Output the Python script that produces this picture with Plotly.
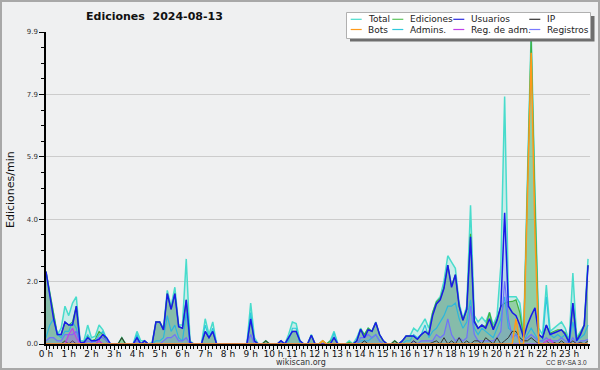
import plotly.graph_objects as go

# 10-minute buckets, 24 h (144 points), values in edits/min
total = [
    2.3, 1.6, 0.9, 0.3, 0.5, 1.2,
    0.9, 1.3, 1.5, 0.1, 0.1, 0.6,
    0.2, 0.25, 0.6, 0.45, 0.15, 0,
    0, 0, 0.2, 0, 0, 0,
    0.4, 0.1, 0.1, 0, 0.05, 0.7,
    0.7, 0.5, 1.7, 1.2, 1.8, 0.6,
    0.6, 2.7, 0.1, 0, 0, 0,
    0.8, 0.3, 0.7, 0, 0, 0,
    0, 0, 0, 0, 0, 0,
    1.3, 0.2, 0, 0, 0.1, 0,
    0, 0, 0.1, 0, 0.3, 0.7,
    0.65, 0.1, 0, 0, 0.3, 0,
    0, 0.1, 0, 0.1, 0.4, 0,
    0, 0, 0.1, 0, 0.2, 0.5,
    0.3, 0.5, 0.4, 0.7, 0.3, 0.1,
    0, 0, 0.1, 0, 0.1, 0.25,
    0.25, 0.5, 0.4, 0.6, 0.8, 0.5,
    1.0, 1.35, 1.5, 2.0, 2.8, 2.6,
    2.4, 1.3, 0.8, 1.2, 4.4, 0.9,
    0.7, 0.85, 0.7, 1.0, 0.6, 0.9,
    2.5, 7.85, 1.5, 1.5, 1.5, 1.3,
    0.3, 5.2, 9.9, 4.8, 0.5, 0.3,
    1.87, 0.4, 0.5, 0.6, 0.7, 0.5,
    0.1, 2.25, 0.2, 0.4, 0.6, 2.7,
]
ediciones = [
    2.3, 1.6, 0.9, 0.3, 0.3, 0.7,
    0.6, 0.7, 1.2, 0.05, 0.05, 0.25,
    0.1, 0.15, 0.4, 0.3, 0.1, 0,
    0, 0, 0.2, 0, 0, 0,
    0.2, 0, 0.1, 0, 0, 0.7,
    0.7, 0.45, 1.6, 1.1, 1.6, 0.55,
    0.5, 1.4, 0.05, 0, 0, 0,
    0.4, 0.2, 0.4, 0, 0, 0,
    0, 0, 0, 0, 0, 0,
    0.8, 0.1, 0, 0, 0.1, 0,
    0, 0, 0.1, 0, 0.2, 0.4,
    0.4, 0.1, 0, 0, 0.28, 0,
    0, 0.1, 0, 0.1, 0.2, 0,
    0, 0, 0.05, 0, 0.1, 0.47,
    0.3, 0.5, 0.4, 0.68, 0.3, 0.1,
    0, 0, 0.1, 0, 0.1, 0.25,
    0.25, 0.25, 0.15, 0.3, 0.4, 0.35,
    1.0, 1.34, 1.45, 1.8, 2.5, 1.85,
    2.2, 1.2, 0.75, 1.1, 3.5, 0.75,
    0.5, 0.6, 0.55, 1.0, 0.5, 0.8,
    1.2, 1.3, 1.34, 1.35, 1.4, 1.0,
    0.2, 5.0, 9.7, 4.5, 0.3, 0.2,
    0.6, 0.35, 0.4, 0.45, 0.45, 0.35,
    0.05, 1.3, 0.15, 0.35, 0.6, 2.5,
]
usuarios = [
    2.3, 1.5, 0.8, 0.3, 0.3, 0.7,
    0.6, 0.6, 1.2, 0.05, 0.05, 0.2,
    0.1, 0.1, 0.15, 0.3, 0.2, 0,
    0, 0, 0, 0, 0, 0,
    0.2, 0, 0.1, 0, 0, 0.7,
    0.7, 0.45, 1.6, 1.1, 1.6, 0.55,
    0.5, 1.4, 0.05, 0, 0, 0,
    0.4, 0.2, 0.4, 0, 0, 0,
    0, 0, 0, 0, 0, 0,
    0.8, 0.1, 0, 0, 0, 0,
    0, 0, 0.1, 0, 0.2, 0.4,
    0.4, 0.1, 0, 0, 0.28, 0,
    0, 0, 0, 0, 0.2, 0,
    0, 0, 0, 0, 0.1, 0.47,
    0.2, 0.45, 0.4, 0.68, 0.3, 0.1,
    0, 0, 0, 0, 0.1, 0.25,
    0.25, 0.25, 0.15, 0.3, 0.4, 0.3,
    0.9, 1.27, 1.4, 1.77, 2.5, 1.8,
    2.2, 1.2, 0.75, 1.1, 3.4, 0.7,
    0.5, 0.6, 0.5, 0.8, 0.45, 0.75,
    1.2, 4.16, 1.2, 1.0, 0.9, 0.6,
    0.2, 0.6, 0.9, 1.15, 0.3, 0.2,
    0.6, 0.3, 0.35, 0.4, 0.45, 0.3,
    0.05, 1.3, 0.1, 0.3, 0.6, 2.5,
]
ip = [
    0, 0, 0, 0, 0, 0.1,
    0, 0.1, 0, 0, 0, 0,
    0, 0, 0.1, 0, 0, 0,
    0, 0, 0.2, 0, 0, 0,
    0, 0, 0, 0, 0, 0,
    0, 0, 0, 0, 0, 0,
    0, 0, 0, 0, 0, 0,
    0, 0, 0, 0, 0, 0,
    0, 0, 0, 0, 0, 0,
    0, 0, 0, 0, 0.1, 0,
    0, 0, 0, 0, 0, 0,
    0, 0, 0, 0, 0, 0,
    0, 0, 0, 0, 0, 0,
    0, 0, 0, 0, 0, 0,
    0.1, 0, 0, 0, 0, 0,
    0, 0, 0.1, 0, 0, 0,
    0, 0.1, 0, 0, 0, 0,
    0.05, 0.1, 0, 0.2, 0, 0.1,
    0, 0.2, 0, 0.1, 0, 0.1,
    0.1, 0, 0.2, 0.1, 0, 0.2,
    0, 0.1, 0.2, 0.4, 0.4, 0.2,
    0.1, 0.1, 0.2, 0.1, 0, 0,
    0.1, 0, 0.05, 0, 0.1, 0,
    0, 0.1, 0, 0.05, 0, 0.1,
]
bots = [0] * 144
bots[73] = 0.1
bots[124] = 0.8
bots[127] = 4.5
bots[128] = 9.24
bots[129] = 3.5
admins = [
    0.2, 0.6, 0.8, 0.3, 0.2, 0.4,
    0.4, 0.7, 0.5, 0, 0.05, 0.3,
    0.1, 0.1, 0.3, 0.4, 0.15, 0,
    0, 0, 0, 0, 0, 0,
    0.3, 0, 0, 0, 0, 0.1,
    0.1, 0.2, 0.9, 0.4, 0.6, 0.2,
    0.1, 1.0, 0, 0, 0, 0,
    0.6, 0.2, 0.5, 0, 0, 0,
    0, 0, 0, 0, 0, 0,
    1.0, 0.1, 0, 0, 0, 0,
    0, 0, 0, 0, 0.1, 0.5,
    0.5, 0, 0, 0, 0, 0,
    0, 0, 0, 0, 0.35, 0,
    0, 0, 0, 0, 0, 0.1,
    0.1, 0.1, 0.2, 0.3, 0.1, 0,
    0, 0, 0, 0, 0, 0.1,
    0.1, 0.3, 0.2, 0.3, 0.6, 0.2,
    0.4, 0.5, 0.7, 0.9, 1.2, 1.2,
    1.3, 0.8, 0.5, 0.7, 1.4, 0.5,
    0.3, 0.5, 0.4, 0.3, 0.2, 0.5,
    0.8, 1.5, 0.5, 0.4, 0.3, 0.2,
    0.1, 0.3, 0.5, 0.3, 0.1, 0.1,
    1.5, 0.3, 0.2, 0.3, 0.2, 0.3,
    0.05, 0.7, 0.1, 0.2, 0.3, 0.6,
]
reg_adm = [0] * 144
reg_adm[6] = 0.3
reg_adm[7] = 0.5
reg_adm[8] = 0.2
reg_adm[14] = 0.1
reg_adm[132] = 0.1
reg_adm[133] = 0.15
registros = [
    0.1, 0.2, 0.2, 0.1, 0.1, 0.3,
    0.3, 0.3, 0.4, 0, 0, 0.1,
    0.05, 0.1, 0.2, 0.2, 0.1, 0,
    0, 0, 0, 0, 0, 0,
    0.1, 0, 0, 0, 0, 0,
    0, 0.1, 0.2, 0.2, 0.3, 0.1,
    0.1, 0.2, 0, 0, 0, 0,
    0, 0, 0, 0, 0, 0,
    0, 0, 0, 0, 0, 0,
    0.3, 0, 0, 0, 0, 0,
    0, 0, 0, 0, 0, 0,
    0, 0, 0, 0, 0, 0,
    0, 0, 0, 0, 0, 0,
    0, 0, 0, 0, 0, 0.2,
    0.2, 0.3, 0.2, 0.3, 0.1, 0,
    0, 0, 0, 0, 0, 0,
    0, 0.1, 0, 0.1, 0.1, 0.1,
    0.1, 0.3, 0.2, 0.3, 0.8, 0.3,
    0.1, 0.2, 0.1, 0.2, 1.2, 0.3,
    0.1, 0.1, 0.1, 0.1, 0.1, 0.2,
    0.4, 2.0, 0.8, 0.2, 0.3, 0.1,
    0.1, 0.2, 0.3, 0.2, 0.1, 0.1,
    0.2, 0.1, 0.1, 0.1, 0.2, 0.1,
    0, 0.2, 0, 0.1, 0.1, 0.15,
]

hours = [i / 6 for i in range(len(total))]

y_ticks = [0, 1.98, 3.96, 5.94, 7.92, 9.9]
y_ticktext = ["0.0", "2.0", "4.0", "5.9", "7.9", "9.9"]
x_ticks = list(range(24))
x_ticktext = [f"{h} h" for h in x_ticks]

legend_items = [
    ("Total", "#48dccc"), ("Ediciones", "#5cc45c"), ("Usuarios", "#2a2ae0"), ("IP", "#333333"),
    ("Bots", "#ff9a1a"), ("Admins.", "#30c8dc"), ("Reg. de adm.", "#c040e8"), ("Registros", "#7a7aff"),
]

BG = "#eff0f1"
fig = go.Figure()

def add(y, color, width, fill=None, name=""):
    fig.add_trace(go.Scatter(
        x=hours, y=y, mode="lines", name=name,
        line=dict(color=color, width=width),
        fill="tozeroy" if fill else None, fillcolor=fill,
        showlegend=False, hoverinfo="skip",
    ))

add(total, "#48dccc", 1.5, "rgba(72,220,204,0.22)", "Total")
add(ediciones, "#40b040", 1.2, "rgba(70,170,70,0.42)", "Ediciones")
add(admins, "#30c8dc", 1.2, None, "Admins.")
add(registros, "#7a7aff", 1.2, "rgba(110,110,255,0.12)", "Registros")
add(usuarios, "#1a1ae8", 1.5, "rgba(30,30,230,0.10)", "Usuarios")
add(ip, "#333333", 1.0, None, "IP")
add(reg_adm, "#c040e8", 1.2, "rgba(192,64,232,0.25)", "Reg. de adm.")
add(bots, "#ff9a1a", 1.5, None, "Bots")

L, R, T, B = 46, 10, 32, 26
W, H = 600, 370
PW, PH = W - L - R, H - T - B

def xp(px):
    return (px - L) / PW

def yp(py):
    return (H - B - py) / PH

shapes = []
annotations = []
# outer frame
shapes.append(dict(type="rect", xref="paper", yref="paper", x0=xp(1), x1=xp(599), y0=yp(369), y1=yp(1),
                   line=dict(color="#a8a8a8", width=2), fillcolor="rgba(0,0,0,0)", layer="above"))
# legend shadow and box
shapes.append(dict(type="rect", xref="paper", yref="paper", x0=xp(350), x1=xp(594.5), y0=yp(41.5), y1=yp(16),
                   line=dict(width=0), fillcolor="#6e6e6e", layer="above"))
shapes.append(dict(type="rect", xref="paper", yref="paper", x0=xp(346.5), x1=xp(590.5), y0=yp(38.5), y1=yp(12.5),
                   line=dict(color="#b0b0b0", width=1), fillcolor="#ffffff", layer="above"))
col_line = [350.7, 392.3, 453.3, 529.3]
col_text = [366, 408.3, 469.3, 545]
row_y = [19.3, 29.5]
for i, (label, color) in enumerate(legend_items):
    r, c = divmod(i, 4)
    shapes.append(dict(type="line", xref="paper", yref="paper", x0=xp(col_line[c]), x1=xp(col_line[c] + 11),
                       y0=yp(row_y[r]), y1=yp(row_y[r]), line=dict(color=color, width=1.2), layer="above"))
    annotations.append(dict(text=label, xref="paper", yref="paper", x=xp(col_text[c]), y=yp(row_y[r]),
                            xanchor="left", yanchor="middle", showarrow=False,
                            font=dict(family="DejaVu Sans", size=9, color="#222222")))

annotations += [
    dict(text="<b>Ediciones\u00a0 2024-08-13</b>", xref="paper", yref="paper", x=xp(154), y=yp(16.5),
         xanchor="center", yanchor="middle", showarrow=False,
         font=dict(family="DejaVu Sans", size=11, color="#111111")),
    dict(text="Ediciones/min", xref="paper", yref="paper", x=xp(10), y=yp(190), textangle=-90,
         xanchor="center", yanchor="middle", showarrow=False,
         font=dict(family="DejaVu Sans", size=11, color="#111111")),
    dict(text="wikiscan.org", xref="paper", yref="paper", x=xp(300.5), y=yp(362),
         xanchor="center", yanchor="middle", showarrow=False,
         font=dict(family="DejaVu Sans", size=8, color="#333333")),
    dict(text="CC BY-SA 3.0", xref="paper", yref="paper", x=xp(589), y=yp(362),
         xanchor="right", yanchor="middle", showarrow=False,
         font=dict(family="Liberation Sans", size=6.5, color="#333333")),
]

fig.update_layout(
    width=W, height=H, margin=dict(l=L, r=R, t=T, b=B, pad=0, autoexpand=False),
    paper_bgcolor=BG, plot_bgcolor=BG,
    shapes=shapes, annotations=annotations, showlegend=False,
    font=dict(family="DejaVu Sans"),
)
fig.update_xaxes(
    range=[0, 23.92], tickmode="array", tickvals=x_ticks, ticktext=x_ticktext,
    ticks="outside", ticklen=4, tickwidth=1, tickcolor="#000000",
    minor=dict(dtick=1 / 6, tick0=0, ticks="outside", ticklen=3, tickcolor="#000000", showgrid=False),
    showline=True, linecolor="#000000", linewidth=1.5, showgrid=False, zeroline=False,
    tickfont=dict(family="DejaVu Sans", size=9, color="#111111"),
    automargin=False, ticklabelstandoff=-4,
)
fig.update_yaxes(
    range=[0, 9.9], tickmode="array", tickvals=y_ticks, ticktext=y_ticktext,
    ticks="outside", ticklen=5, tickwidth=1, tickcolor="#000000",
    minor=dict(dtick=0.495, tick0=0, ticks="outside", ticklen=3, tickcolor="#000000", showgrid=False),
    showline=True, linecolor="#000000", linewidth=1.5,
    showgrid=True, gridcolor="#cccccc", gridwidth=1, zeroline=False,
    tickfont=dict(family="DejaVu Sans", size=7, color="#333333"),
    automargin=False,
)

fig.write_html("out.html")
